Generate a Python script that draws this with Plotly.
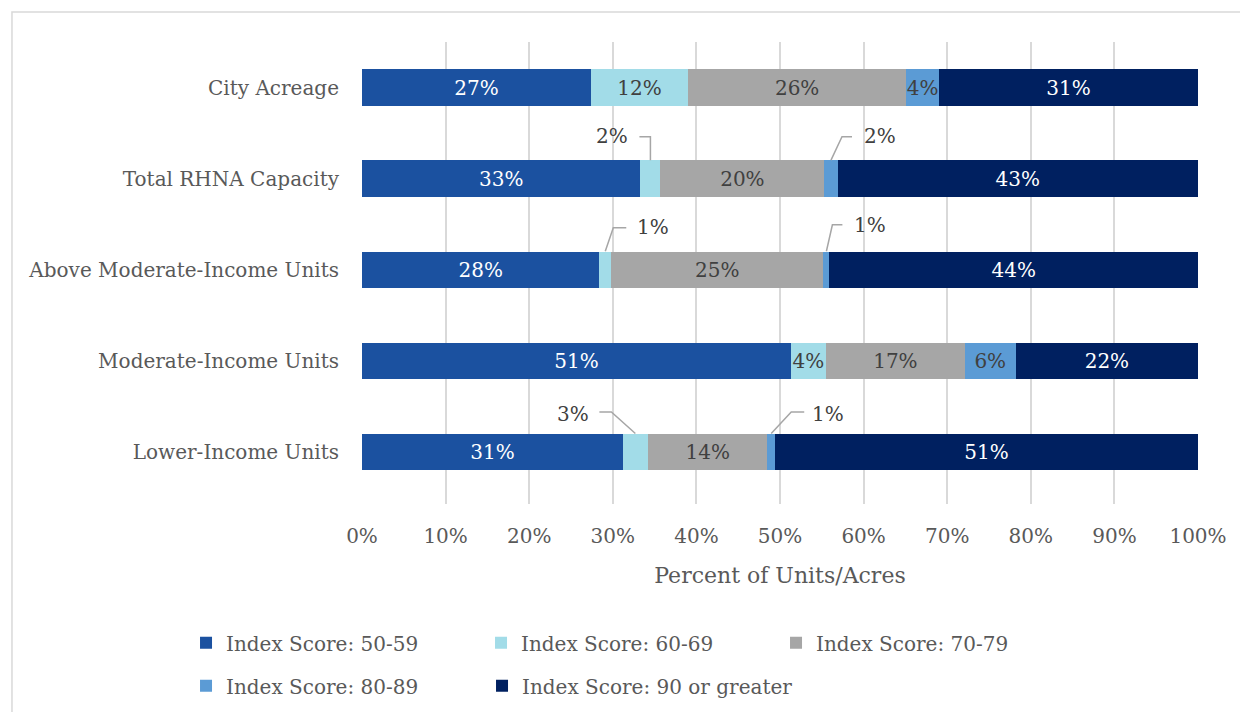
import plotly.graph_objects as go

categories = ["City Acreage", "Total RHNA Capacity", "Above Moderate-Income Units",
              "Moderate-Income Units", "Lower-Income Units"]
series_names = ["Index Score: 50-59", "Index Score: 60-69", "Index Score: 70-79",
                "Index Score: 80-89", "Index Score: 90 or greater"]
score_50_59 = [27.4, 33.3, 28.4, 51.3, 31.2]
score_60_69 = [11.6, 2.4, 1.4, 4.2, 3.0]
score_70_79 = [26.1, 19.6, 25.4, 16.6, 14.3]
score_80_89 = [3.9, 1.6, 0.7, 6.1, 0.9]
score_90_plus = [31.0, 43.1, 44.1, 21.8, 50.6]
x_ticks = [0, 10, 20, 30, 40, 50, 60, 70, 80, 90, 100]

series_values = [score_50_59, score_60_69, score_70_79, score_80_89, score_90_plus]
colors = ["#1B51A0", "#A2DCE8", "#A6A6A6", "#5B9BD5", "#002060"]
text_colors = ["#FFFFFF", "#404040", "#404040", "#404040", "#FFFFFF"]
legend_ids = ["legend", "legend", "legend", "legend2", "legend3"]

# labels placed outside with leader lines: (category idx, series idx) -> (path, text dx, text dy)
callouts = {
    (1, 1): ("M 0 18.5 L 0 42 L -11 42", -38, 43),
    (1, 3): ("M 0 18.5 L 11 42 L 21 42", 49, 43),
    (2, 1): ("M 0 18.5 L 8 42 L 21 42", 48, 43),
    (2, 3): ("M 0 18.5 L 6 45 L 16 45", 44, 45),
    (4, 1): ("M 0 18.5 L -24 40 L -36 40", -62, 38),
    (4, 3): ("M 0 18.5 L 20 40 L 33 40", 57, 38),
}

FONT = "DejaVu Serif"
fig = go.Figure()
for si, (name, vals) in enumerate(zip(series_names, series_values)):
    texts = []
    for ci, v in enumerate(vals):
        texts.append("" if (ci, si) in callouts else f"{v:.0f}%")
    fig.add_trace(go.Bar(
        y=categories, x=vals, name=name, orientation="h",
        marker=dict(color=colors[si], line=dict(width=0)),
        text=texts, textposition="inside", insidetextanchor="middle", textangle=0,
        textfont=dict(family=FONT, size=20, color=text_colors[si]),
        cliponaxis=False, width=0.4,
        legend=legend_ids[si],
        hoverinfo="skip",
    ))

shapes = []
annotations = []
for (ci, si), (path, dx, dy) in callouts.items():
    start = sum(series_values[k][ci] for k in range(si))
    center = start + series_values[si][ci] / 2
    shapes.append(dict(type="path", xref="x", yref="y", xsizemode="pixel", ysizemode="pixel",
                       xanchor=center, yanchor=categories[ci], path=path,
                       line=dict(color="#A6A6A6", width=1.5)))
    annotations.append(dict(x=center, y=categories[ci], xref="x", yref="y",
                            text=f"{series_values[si][ci]:.0f}%", showarrow=False,
                            xshift=dx, yshift=dy,
                            font=dict(family=FONT, size=20, color="#404040")))

# chart border
shapes.append(dict(type="rect", xref="paper", yref="paper", x0=-0.4187, x1=1.07,
                   y0=-0.47, y1=1.0649, line=dict(color="#D9D9D9", width=1.5),
                   fillcolor="rgba(0,0,0,0)", layer="below"))

LX = -0.2105
STEP = 296 / 836
legend_common = dict(orientation="h", xanchor="left", yanchor="middle",
                     traceorder="normal", font=dict(family=FONT, size=20, color="#595959"))

fig.update_layout(
    width=1248, height=712,
    margin=dict(l=354, r=58, t=34, b=215.5),
    paper_bgcolor="white", plot_bgcolor="white",
    barmode="stack", bargap=0.6,
    font=dict(family=FONT, color="#595959", size=20),
    uniformtext=dict(minsize=20, mode="show"),
    xaxis=dict(range=[0, 100], tickvals=x_ticks, ticktext=[f"{t}%" for t in x_ticks],
               showgrid=True, gridcolor="#D9D9D9", gridwidth=1.5, zeroline=False,
               showline=False, ticks="", ticklabelstandoff=18,
               tickfont=dict(family=FONT, size=20, color="#595959"),
               title=dict(text="Percent of Units/Acres", standoff=20,
                          font=dict(family=FONT, size=22, color="#595959"))),
    yaxis=dict(categoryorder="array", categoryarray=categories, autorange="reversed",
               showgrid=False, showline=False, ticks="", ticklabelstandoff=22,
               tickfont=dict(family=FONT, size=20, color="#595959")),
    legend=dict(x=LX, y=-0.3005, entrywidth=STEP * 836 - 46, entrywidthmode="pixels",
                **legend_common),
    legend2=dict(x=LX, y=-0.3935, **legend_common),
    legend3=dict(x=LX + STEP, y=-0.3935, **legend_common),
    shapes=shapes, annotations=annotations,
    showlegend=True,
)
fig.write_html("out.html")
